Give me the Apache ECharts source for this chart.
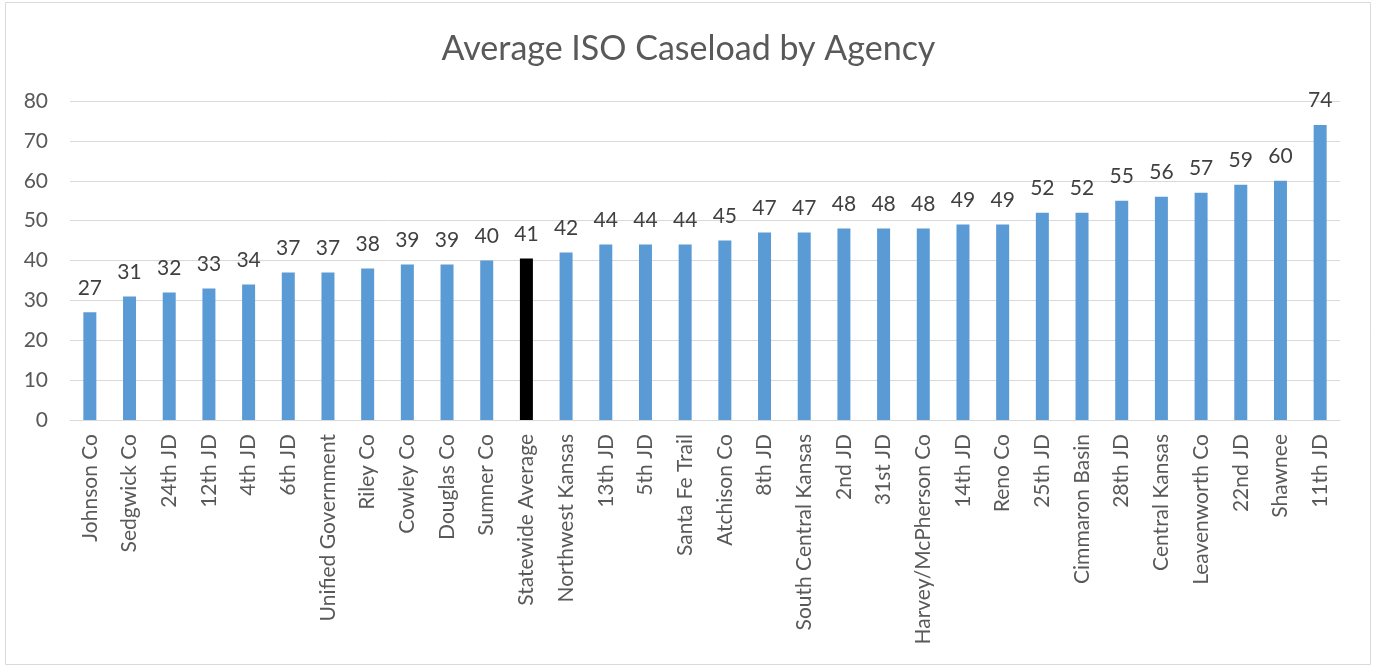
<!DOCTYPE html>
<html><head><meta charset="utf-8">
<script src="https://cdn.jsdelivr.net/npm/echarts@6/dist/echarts.min.js"></script>
<style>html,body{margin:0;padding:0;background:#fff}#c{width:1377px;height:668px}</style>
</head><body><div id="c"></div>
<script>
const categories = ["Johnson Co","Sedgwick Co","24th JD","12th JD","4th JD","6th JD","Unified Government","Riley Co","Cowley Co","Douglas Co","Sumner Co","Statewide Average","Northwest Kansas","13th JD","5th JD","Santa Fe Trail","Atchison Co","8th JD","South Central Kansas","2nd JD","31st JD","Harvey/McPherson Co","14th JD","Reno Co","25th JD","Cimmaron Basin","28th JD","Central Kansas","Leavenworth Co","22nd JD","Shawnee","11th JD"];
const values = [27,31,32,33,34,37,37,38,39,39,40,40.5,42,44,44,44,45,47,47,48,48,48,49,49,52,52,55,56,57,59,60,74];
const highlight = "Statewide Average";
const font = "Lato";
const chart = echarts.init(document.getElementById('c'));
chart.setOption({
  animation:false,
  title:{text:"Average ISO Caseload by Agency",left:'center',top:27,textStyle:{fontFamily:font,fontSize:34,fontWeight:'normal',color:'#595959'}},
  graphic:[{type:'rect',shape:{x:5.5,y:2.5,width:1365,height:662},style:{fill:'none',stroke:'#d9d9d9',lineWidth:1}}],
  grid:{left:70,right:37,top:101,bottom:248},
  xAxis:{type:'category',data:categories,axisTick:{show:false},axisLine:{lineStyle:{color:'#d9d9d9',width:1}},
    axisLabel:{rotate:90,interval:0,fontFamily:font,fontSize:21,color:'#595959',margin:14}},
  yAxis:{type:'value',min:0,max:80,interval:10,axisLine:{show:false},axisTick:{show:false},
    splitLine:{lineStyle:{color:'#d9d9d9',width:1}},
    axisLabel:{fontFamily:font,fontSize:21,color:'#595959',margin:22}},
  series:[{type:'bar',barWidth:13,
    data:values.map((v,i)=>({value:v,itemStyle:{color:categories[i]===highlight?'#000000':'#5b9bd5'}})),
    label:{show:true,position:'top',distance:14,fontFamily:font,fontSize:21,color:'#404040',formatter:p=>Math.round(p.value)}}]
});
</script></body></html>
